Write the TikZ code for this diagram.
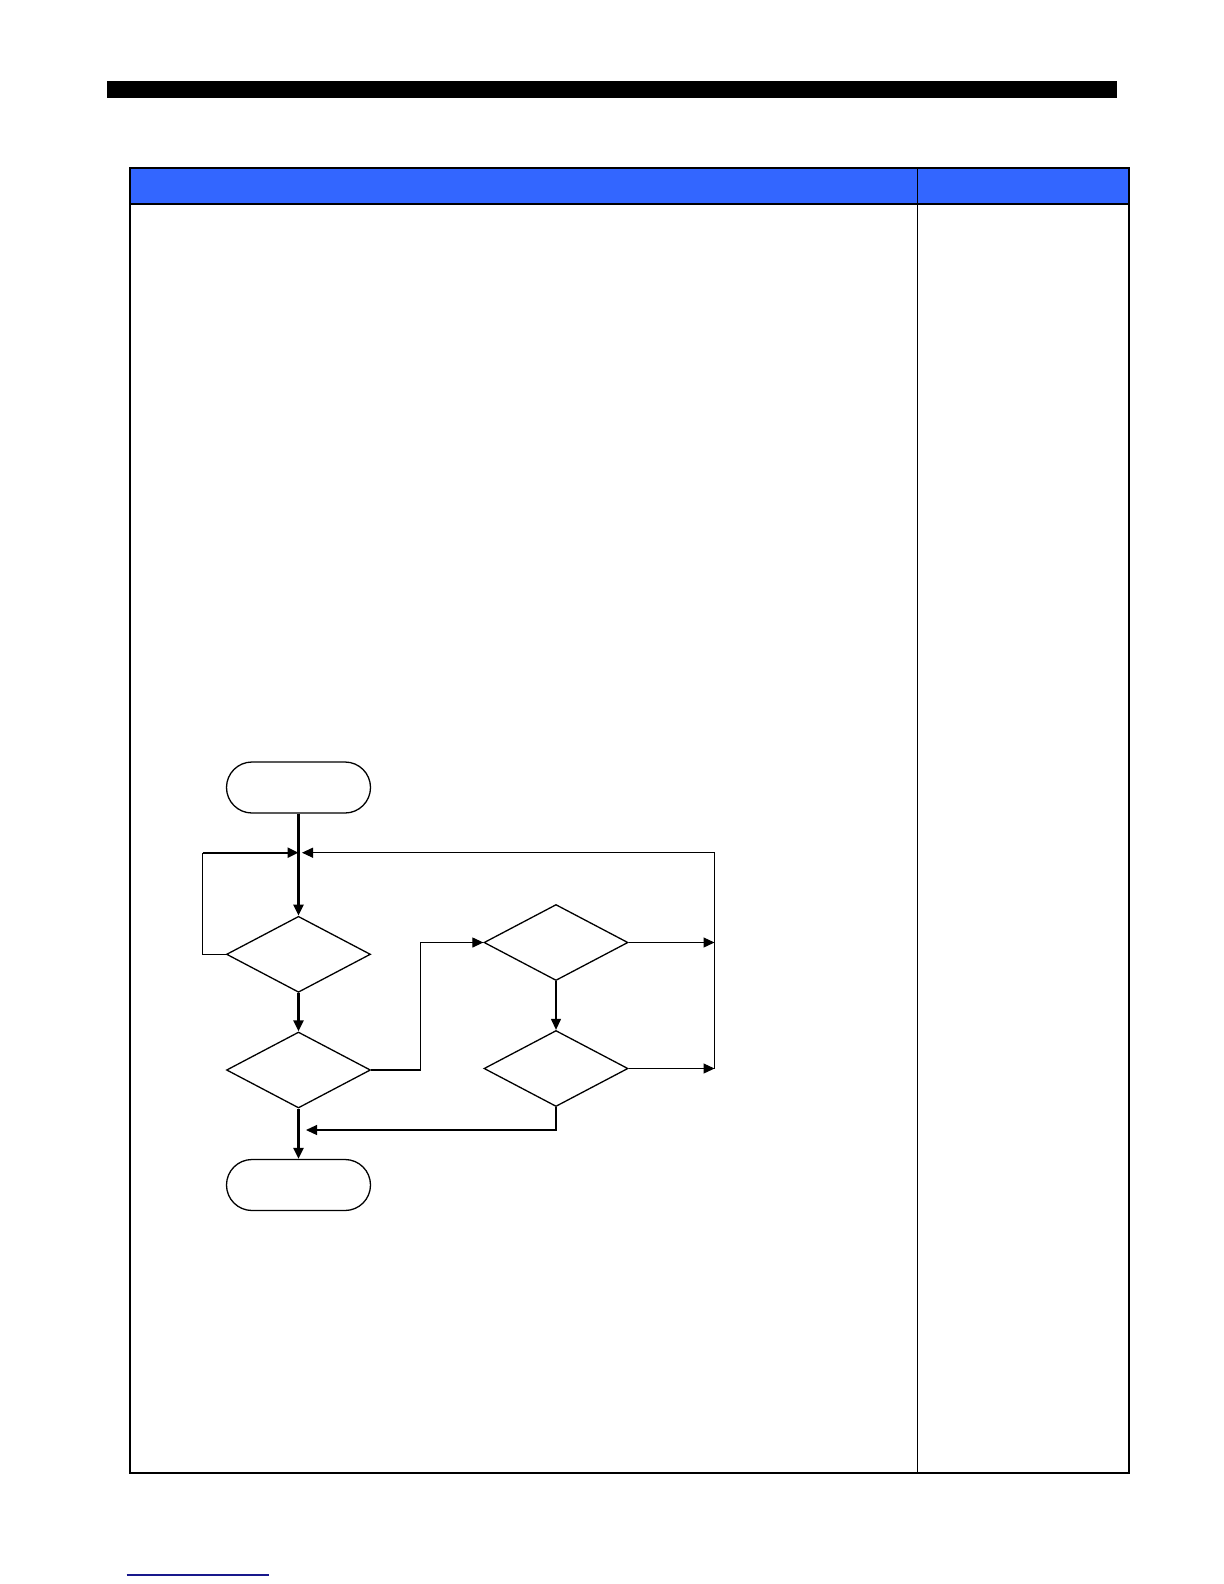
\documentclass[tikz,border=0pt]{standalone}
\usepackage{tikz}
\usetikzlibrary{arrows.meta,shapes.geometric,shapes.misc}

\definecolor{headblue}{RGB}{51,102,255}
\definecolor{rulenavy}{RGB}{24,24,140}

\begin{document}
\begin{tikzpicture}[x=0.5bp, y=-0.5bp, every node/.style={inner sep=0pt},
    terminal/.style={draw, rounded rectangle, line width=0.65bp, minimum width=72bp, minimum height=25.5bp},
    decision/.style={draw, diamond, line width=0.65bp, minimum width=72bp, minimum height=38bp},
    flow/.style={line width=0.6bp, -{Triangle[length=5.5bp, width=5bp]}},
    mainflow/.style={flow, line width=1.2bp}]
    \useasboundingbox (0,0) rectangle (1224,1584);
    % page bar and table
    \fill (106.5,81) rectangle (1117,98);
    \fill[headblue] (129.5,168) rectangle (1128.5,204);
    \draw[line width=0.6bp] (129.5,204) -- (1128.5,204) (917.5,168) -- (917.5,1473);
    \draw[line width=1bp] (129.5,168) rectangle (1128.5,1473);
    \draw[rulenavy, line width=0.7bp] (126.7,1575) -- (269,1575);
    % flowchart
    \node[terminal] (start) at (298.5,787.5) {};
    \node[decision] (dec1) at (298.5,954.3) {};
    \node[decision] (dec2) at (298.5,1070) {};
    \node[decision] (dec3) at (556,942.5) {};
    \node[decision] (dec4) at (556,1068.5) {};
    \node[terminal] (stop) at (298.5,1185) {};
    \coordinate (join) at (298.5,852.7);
    \coordinate (joinright) at (302,852.7);
    \coordinate (loopleft) at (202.5,852.7);
    \coordinate (loopright) at (714.5,852.7);
    \coordinate (exit3) at (714.5,942.5);
    \coordinate (exit4) at (714.5,1068.5);
    \coordinate (backin) at (306,1130);
    \draw[mainflow] (start) -- (dec1);
    \draw[mainflow] (dec1) -- (dec2);
    \draw[mainflow] (dec2) -- (stop);
    \draw[flow] (dec3) -- (dec4);
    \draw[line width=0.6bp] (dec1.west) -| (loopleft);
    \draw[mainflow] (loopleft) -- (join);
    \draw[flow] (dec2.east) -- ++(49.5,0) |- (dec3.west);
    \draw[flow] (dec3.east) -- (exit3);
    \draw[flow] (dec4.east) -- (exit4);
    \draw[flow] (exit4) -- (loopright) -- (joinright);
    \draw[flow] (dec4.south) |- (backin);
\end{tikzpicture}
\end{document}
